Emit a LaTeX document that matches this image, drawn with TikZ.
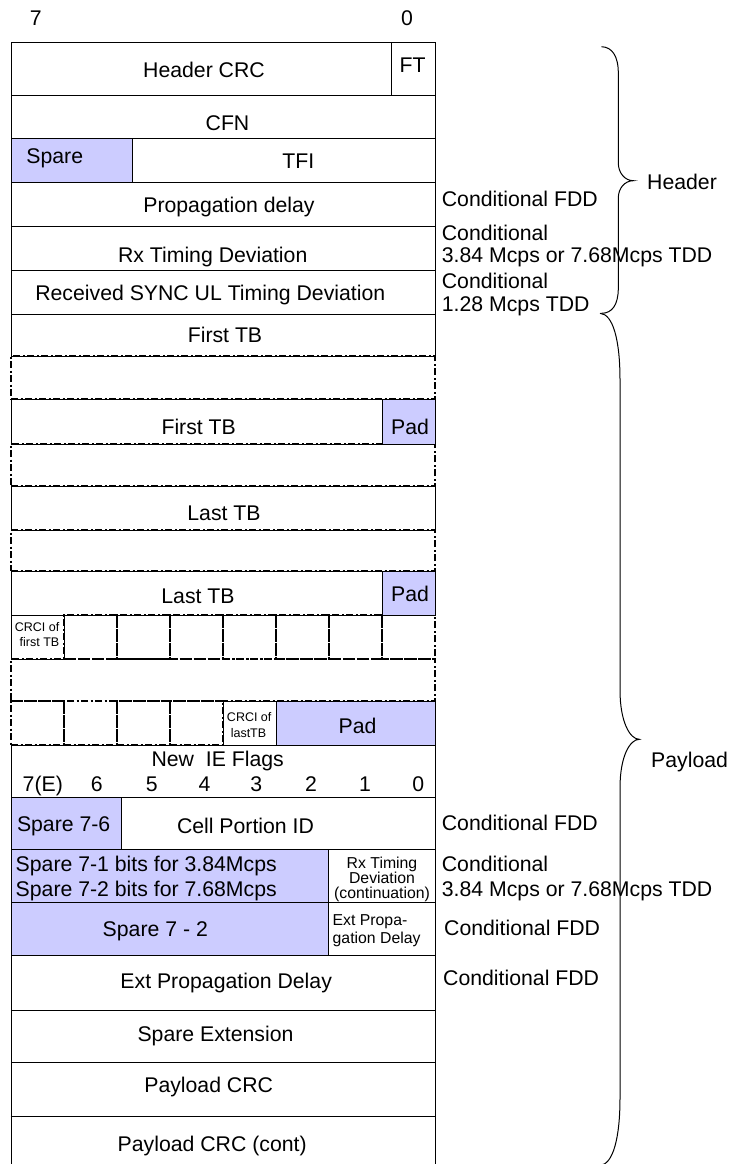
\documentclass[tikz,border=0pt]{standalone}
\usepackage{fontspec}
\setmainfont{Liberation Sans}
\usetikzlibrary{fit}
\definecolor{sparefill}{RGB}{204,204,255}
\begin{document}
\begin{tikzpicture}[x=1pt,y=-1pt,
  cell/.style={draw, line width=0.9pt, inner sep=0pt},
  sparecell/.style={cell, fill=sparefill},
  dotcell/.style={draw, line width=1.1pt, dash pattern=on 7pt off 2.5pt on 2pt off 2.5pt, inner sep=0pt},
  txt/.style={anchor=base, inner sep=0pt, font=\fontsize{21.25}{25}\selectfont},
  ltxt/.style={txt, anchor=base west},
  smtxt/.style={anchor=base, inner sep=0pt, font=\fontsize{12.5}{15}\selectfont},
  mdtxt/.style={anchor=base, inner sep=0pt, font=\fontsize{15.8}{18}\selectfont},
  bracepath/.style={draw, line width=1pt}]
\useasboundingbox[fill=white] (0,0) rectangle (730,1164);

% ---- dash-dot regions (drawn first) ----
\node[dotcell, fit={(11,356) (435,399)}] (dA) {};
\node[dotcell, fit={(11,444) (435,486)}] (dB) {};
\node[dotcell, fit={(11,530) (435,571)}] (dC) {};
\foreach \xa/\xb [count=\i] in {64/117,117/170,170/223,223/276,276/329,329/382,382/435}
  \node[dotcell, fit={(\xa,615) (\xb,659)}] (cc\i) {};
\node[dotcell, fit={(11,659) (435,701)}] (dD) {};
\foreach \xa/\xb [count=\i] in {11/64,64/117,117/170,170/223}
  \node[dotcell, fit={(\xa,701) (\xb,745)}] (ec\i) {};

% ---- solid boxes ----
\node[cell, fit={(11,42.7) (391,95.7)}] (hcrc) {};
\node[cell, fit={(391,42.7) (435,95.7)}] (ft) {};
\node[cell, fit={(11,95.7) (435,138.7)}] (cfn) {};
\node[sparecell, fit={(11,138.7) (132.3,182.7)}] (spare) {};
\node[cell, fit={(132.3,138.7) (435,182.7)}] (tfi) {};
\node[cell, fit={(11,182.7) (435,226.7)}] (prop) {};
\node[cell, fit={(11,226.7) (435,270.7)}] (rxtd) {};
\node[cell, fit={(11,270.7) (435,314.3)}] (rsync) {};
\node[cell, fit={(11,314.3) (435,356)}] (ftbA) {};
\node[cell, fit={(11,399) (382,444)}] (ftbB) {};
\node[sparecell, fit={(382,399) (435,444)}] (padA) {};
\node[cell, fit={(11,486) (435,530)}] (ltbA) {};
\node[cell, fit={(11,571) (382,615)}] (ltbB) {};
\node[sparecell, fit={(382,571) (435,615)}] (padB) {};
\node[cell, fit={(11,615) (64,659)}] (crciA) {};
\node[cell, fit={(223,701) (276,745)}] (crciB) {};
\node[sparecell, fit={(276,701) (435,745)}] (padC) {};
\node[cell, fit={(11,745) (435,797)}] (flags) {};
\node[sparecell, fit={(11,797) (121,849.3)}] (sp76) {};
\node[cell, fit={(121,797) (435,849.3)}] (cpid) {};
\node[sparecell, fit={(11,849.3) (328,902)}] (sp71) {};
\node[cell, fit={(328,849.3) (435,902)}] (rxc) {};
\node[sparecell, fit={(11,902) (328,955.7)}] (sp72) {};
\node[cell, fit={(328,902) (435,955.7)}] (epd) {};
\node[cell, fit={(11,955.7) (435,1010)}] (extpd) {};
\node[cell, fit={(11,1010) (435,1062)}] (spext) {};
\node[cell, fit={(11,1062) (435,1116)}] (pcrc) {};
\node[cell, fit={(11,1116) (435,1172)}] (pcrcB) {};
\draw[line width=1.8pt] (pcrc.south west) -- (pcrc.south east);

% ---- texts inside ----
\node[txt] (b7) at (35.7,25.7) {7};
\node[txt] (b0) at (407,25.7) {0};
\node[txt] (thcrc) at (204,77.3) {Header CRC};
\node[txt] (tft) at (412.5,72.7) {FT};
\node[txt] (tcfn) at (227.5,130) {CFN};
\node[ltxt] (tspare) at (26.2,163.3) {Spare};
\node[txt] (ttfi) at (298.3,168.3) {TFI};
\node[txt] (tprop) at (229,212.7) {Propagation delay};
\node[txt] (trxtd) at (212.7,262.5) {Rx Timing Deviation};
\node[txt] (trsync) at (210.3,300.2) {Received SYNC UL Timing Deviation};
\node[txt] (tftbA) at (225,342.5) {First TB};
\node[txt] (tftbB) at (198.7,434.2) {First TB};
\node[txt] (tpadA) at (410,434.2) {Pad};
\node[txt] (tltbA) at (224,520.2) {Last TB};
\node[txt] (tltbB) at (198,603.9) {Last TB};
\node[txt] (tpadB) at (410,601) {Pad};
\node[smtxt, anchor=base east] (tcrciA1) at (59.5,631.7) {CRCI of};
\node[smtxt, anchor=base east] (tcrciA2) at (59.5,646.7) {first TB};
\node[smtxt] (tcrciB1) at (249.2,721) {CRCI of};
\node[smtxt] (tcrciB2) at (248.5,737.3) {lastTB};
\node[txt] (tpadC) at (357.5,733.5) {Pad};
\node[txt] (tflags) at (217.7,766.7) {New\ \ IE Flags};
\foreach \xx/\lab [count=\i] in {42.8/7(E),96.7/6,151.7/5,204.5/4,256.2/3,311/2,365/1,418.3/0}
  \node[txt] (fl\i) at (\xx,791.7) {\lab};
\node[ltxt] (tsp76) at (16.8,831.7) {Spare 7-6};
\node[txt] (tcpid) at (245.5,833.3) {Cell Portion ID};
\node[ltxt] (tsp71a) at (15.5,871.7) {Spare 7-1 bits for 3.84Mcps};
\node[ltxt] (tsp71b) at (15.5,896.7) {Spare 7-2 bits for 7.68Mcps};
\node[mdtxt] (trxc1) at (382,868) {Rx Timing};
\node[mdtxt] (trxc2) at (382,883) {Deviation};
\node[mdtxt] (trxc3) at (382,898) {(continuation)};
\node[txt] (tsp72) at (155.3,936.7) {Spare 7 - 2};
\node[mdtxt, anchor=base west] (tepd1) at (332.5,925.3) {Ext Propa-};
\node[mdtxt, anchor=base west] (tepd2) at (332.5,943) {gation Delay};
\node[txt] (textpd) at (226.2,988.5) {Ext Propagation Delay};
\node[txt] (tspext) at (215.5,1041) {Spare Extension};
\node[txt] (tpcrc) at (208.7,1092.5) {Payload CRC};
\node[txt] (tpcrcB) at (212.2,1151) {Payload CRC (cont)};

% ---- right side notes ----
\node[ltxt] (n1) at (441.7,206.7) {Conditional FDD};
\node[ltxt] (n2) at (441.7,240) {Conditional};
\node[ltxt] (n3) at (441.7,262.3) {3.84 Mcps or 7.68Mcps TDD};
\node[ltxt] (n4) at (441.7,288.3) {Conditional};
\node[ltxt] (n5) at (441.7,311) {1.28 Mcps TDD};
\node[ltxt] (n6) at (441.7,830.7) {Conditional FDD};
\node[ltxt] (n7) at (441.7,871) {Conditional};
\node[ltxt] (n8) at (441.7,896) {3.84 Mcps or 7.68Mcps TDD};
\node[ltxt] (n9) at (444,935.7) {Conditional FDD};
\node[ltxt] (n10) at (443,985) {Conditional FDD};
\node[ltxt] (lhead) at (647,189) {Header};
\node[ltxt] (lpay) at (651,767) {Payload};

% ---- braces ----
\coordinate (hbtop) at (601.5,46.7);
\coordinate (hbtip) at (633.3,180.7);
\coordinate (hbbot) at (601.5,313.3);
\path[bracepath] (hbtop) .. controls (612,47) and (618.3,56) .. (618.3,73)
  -- (618.3,163) .. controls (618.3,173) and (625,180.7) .. (hbtip)
  .. controls (625,180.7) and (618.3,188) .. (618.3,198)
  -- (618.3,288) .. controls (618.3,305) and (612,313.3) .. (hbbot);
\coordinate (pbtop) at (600,313.3);
\coordinate (pbtip) at (639.3,739.3);
\coordinate (pbbot) at (600,1165.3);
\path[bracepath] (pbtop) .. controls (613,314) and (620,340) .. (620,380)
  -- (620,690) .. controls (620,722) and (630,739.3) .. (pbtip)
  .. controls (630,739.3) and (620,756) .. (620,788)
  -- (620,1098) .. controls (620,1138) and (613,1164.6) .. (pbbot);
\end{tikzpicture}
\end{document}
